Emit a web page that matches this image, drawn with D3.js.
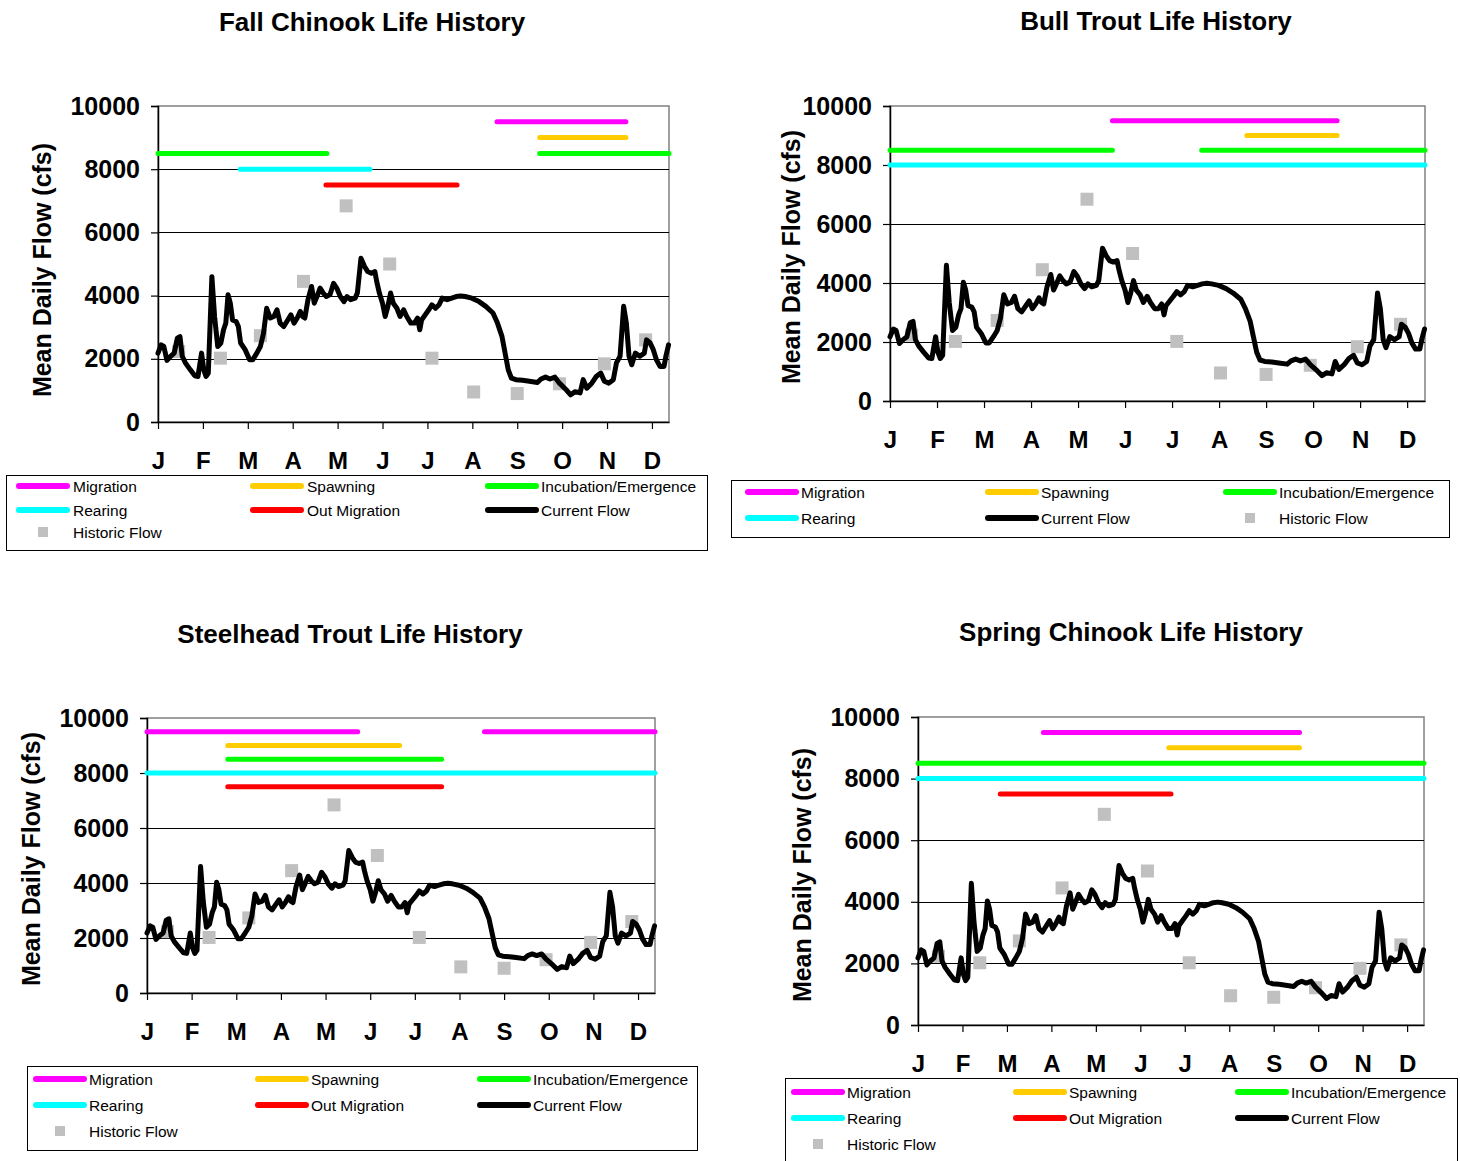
<!DOCTYPE html>
<html><head><meta charset="utf-8">
<script src="https://cdn.jsdelivr.net/npm/d3@7"></script>
<style>
body{margin:0;background:#fff}
svg{display:block}
text{font-family:"Liberation Sans",Arial,Helvetica,sans-serif;fill:#000}
</style>
</head><body>
<svg id="c" width="1460" height="1161"></svg>
<script>
// ---------------- DATA ----------------
const months = ["J","F","M","A","M","J","J","A","S","O","N","D"];
const yTicks = [0, 2000, 4000, 6000, 8000, 10000];
const gridValues = [2000, 4000, 6000, 8000];
const xMax = 11.38; // axis runs a little past the D tick (month units)

// Current flow: position in month units, mean daily flow (cfs)
const flowPos = [0,0.07,0.13,0.2,0.28,0.36,0.43,0.49,0.54,0.61,0.72,0.82,0.89,0.97,1.02,1.07,1.12,1.2,1.26,1.33,1.4,1.46,1.51,1.56,1.61,1.66,1.74,1.79,1.84,1.94,2.04,2.11,2.2,2.28,2.35,2.42,2.5,2.58,2.65,2.72,2.8,2.89,2.96,3.03,3.1,3.17,3.22,3.27,3.34,3.42,3.48,3.54,3.61,3.68,3.75,3.83,3.91,3.98,4.06,4.14,4.21,4.29,4.39,4.44,4.52,4.6,4.67,4.75,4.83,4.87,4.93,5.0,5.06,5.12,5.18,5.24,5.32,5.39,5.47,5.54,5.63,5.71,5.78,5.83,5.87,5.95,6.03,6.1,6.18,6.26,6.33,6.44,6.54,6.64,6.74,6.84,6.99,7.15,7.3,7.46,7.56,7.66,7.73,7.8,7.87,7.97,8.12,8.27,8.45,8.53,8.63,8.73,8.84,8.94,9.09,9.19,9.29,9.4,9.47,9.55,9.66,9.76,9.86,9.94,10.04,10.14,10.21,10.29,10.37,10.43,10.49,10.55,10.63,10.73,10.83,10.88,10.96,11.03,11.1,11.18,11.27,11.31,11.37];
const flowCfs = [2180,2440,2390,1950,2080,2180,2650,2700,2080,1870,1650,1460,1440,2180,1650,1440,1550,4600,3340,2390,2500,2920,3130,4025,3760,3230,3180,3020,2500,2290,1970,1970,2180,2390,2810,3600,3290,3340,3550,3130,3020,3230,3390,3130,3290,3500,3340,3290,3870,4290,3760,3970,4240,4080,3970,4030,4390,4240,3970,3810,3970,3870,3920,4080,5180,4920,4760,4710,4760,4450,4080,3760,3340,3660,4080,3760,3600,3340,3550,3340,3130,3130,3290,2920,3230,3390,3550,3710,3600,3710,3920,3870,3920,3970,3990,3970,3920,3810,3660,3450,3130,2710,2180,1650,1390,1340,1320,1290,1250,1360,1420,1360,1420,1230,1020,860,960,920,1340,1070,1230,1440,1550,1290,1230,1340,1870,2080,3660,3130,2080,1810,2180,2080,2180,2600,2500,2290,1970,1760,1760,2080,2440];

// Historic flow (monthly squares)
const histPos = [0.46,1.39,2.28,3.24,4.19,5.16,6.10,7.03,8.0,8.94,9.94,10.86];
const histCfs = [2230,2020,2730,4450,6840,5000,2020,950,900,1210,1840,2600];

// Life-history stages
const stageNames  = ["Migration","Spawning","Incubation/Emergence","Rearing","Out Migration"];
const stageLevels = [9500, 9000, 8500, 8000, 7500];
const stageColors = ["#ff00ff","#ffcc00","#00ff00","#00ffff","#ff0000"];

// Stage spans per species: [stage index, start month, end month]
const fallChinookSpans   = [[0,7.55,10.42],[1,8.5,10.42],[2,0,3.76],[2,8.5,xMax],[3,1.83,4.72],[4,3.74,6.66]];
const bullTroutSpans     = [[3,0,xMax],[0,4.73,9.51],[1,7.59,9.51],[2,0,4.73],[2,6.63,xMax]];
const steelheadSpans     = [[3,0,xMax],[0,0,4.72],[0,7.56,xMax],[1,1.81,5.66],[2,1.81,6.6],[4,1.81,6.6]];
const springChinookSpans = [[2,0,xMax],[3,0,xMax],[0,2.82,8.58],[1,5.64,8.58],[4,1.85,5.69]];

const titles = ["Fall Chinook Life History","Bull Trout Life History","Steelhead Trout Life History","Spring Chinook Life History"];
const yTitle = "Mean Daily Flow (cfs)";

// legend entries (keys): stage index, "flow", "hist"
const legendFull  = [[0,1,2],[3,4,"flow"],["hist"]];
const legendBull  = [[0,1,2],[3,"flow","hist"]];

// ---------------- LAYOUT ----------------
const panels = [
  {title:titles[0], spans:fallChinookSpans, legend:legendFull,
   L:158,R:669,T:106,B:422, titleX:372,titleY:22, yTitleX:42,yTitleY:270,
   box:{x:6,y:475,w:701,h:75}, rows:[486,510,532], cols:[[16,73],[250,307],[485,541]]},
  {title:titles[1], spans:bullTroutSpans, legend:legendBull,
   L:890,R:1425,T:106,B:401, titleX:1156,titleY:21, yTitleX:791,yTitleY:257,
   box:{x:731,y:480,w:718,h:57}, rows:[492,518], cols:[[745,801],[985,1041],[1223,1279]]},
  {title:titles[2], spans:steelheadSpans, legend:legendFull,
   L:147,R:655,T:718,B:993, titleX:350,titleY:634, yTitleX:31,yTitleY:859,
   box:{x:27,y:1066,w:670,h:84}, rows:[1079,1105,1131], cols:[[33,89],[255,311],[477,533]]},
  {title:titles[3], spans:springChinookSpans, legend:legendFull,
   L:918,R:1424,T:717,B:1025, titleX:1131,titleY:632, yTitleX:802,yTitleY:875,
   box:{x:785,y:1078,w:672,h:100}, rows:[1092,1118,1144], cols:[[791,847],[1013,1069],[1235,1291]]}
];

const svg = d3.select("#c");

panels.forEach(p => {
  const g = svg.append("g");
  const x = d3.scaleLinear().domain([0, xMax]).range([p.L, p.R]);
  const y = d3.scaleLinear().domain([0, 10000]).range([p.B, p.T]);

  // title
  g.append("text").attr("x", p.titleX).attr("y", p.titleY)
    .attr("text-anchor","middle").attr("dominant-baseline","central")
    .style("font-size","26px").style("font-weight","bold").text(p.title);

  // plot border (grey)
  g.append("rect").attr("x",p.L).attr("y",p.T).attr("width",p.R-p.L).attr("height",p.B-p.T)
    .attr("fill","none").attr("stroke","#808080").attr("stroke-width",1.5);

  // gridlines
  g.selectAll(".grid").data(gridValues).enter().append("line")
    .attr("x1",p.L).attr("x2",p.R).attr("y1",d=>Math.round(y(d))+0.5).attr("y2",d=>Math.round(y(d))+0.5)
    .attr("stroke","#000").attr("stroke-width",1);

  // y axis
  const yAx = g.append("g").attr("transform",`translate(${p.L},0)`)
    .call(d3.axisLeft(y).tickValues(yTicks).tickSize(7).tickPadding(11).tickFormat(d3.format("d")));
  yAx.select(".domain").attr("stroke","#000").attr("stroke-width",1.5);
  yAx.selectAll(".tick line").attr("stroke","#000").attr("stroke-width",1.2);
  yAx.selectAll("text").style("font-size","25px").style("font-weight","bold")
    .attr("font-family",null);

  // x axis
  const xAx = g.append("g").attr("transform",`translate(0,${p.B})`)
    .call(d3.axisBottom(x).tickValues(d3.range(12)).tickSize(7).tickSizeOuter(0).tickPadding(0)
      .tickFormat((d,i)=>months[i]));
  xAx.select(".domain").attr("stroke","#000").attr("stroke-width",1.5);
  xAx.selectAll(".tick line").attr("stroke","#000").attr("stroke-width",1.2);
  xAx.selectAll("text").attr("y",38).attr("dy",null).attr("dominant-baseline","central")
    .style("font-size","24px").style("font-weight","bold");

  // y title
  g.append("text").attr("transform",`translate(${p.yTitleX},${p.yTitleY}) rotate(-90)`)
    .attr("text-anchor","middle").attr("dominant-baseline","central")
    .style("font-size","25px").style("font-weight","bold").text(yTitle);

  // historic flow squares
  const sq = 13;
  g.selectAll(".hist").data(histPos).enter().append("rect")
    .attr("x",(d)=>x(d)-sq/2).attr("y",(d,i)=>y(histCfs[i])-sq/2)
    .attr("width",sq).attr("height",sq).attr("fill","#c0c0c0");

  // current flow line
  const line = d3.line().x(d=>x(d[0])).y(d=>y(d[1]));
  g.append("path").datum(flowPos.map((d,i)=>[d, flowCfs[i]]))
    .attr("d",line).attr("fill","none").attr("stroke","#000")
    .attr("stroke-width",5).attr("stroke-linejoin","round").attr("stroke-linecap","round");

  // life-history stage lines
  g.selectAll(".stage").data(p.spans).enter().append("line")
    .attr("x1",d=>x(d[1])).attr("x2",d=>x(d[2]))
    .attr("y1",d=>y(stageLevels[d[0]])).attr("y2",d=>y(stageLevels[d[0]]))
    .attr("stroke",d=>stageColors[d[0]]).attr("stroke-width",5).attr("stroke-linecap","round");

  // legend
  const lg = svg.append("g");
  lg.append("rect").attr("x",p.box.x+0.5).attr("y",p.box.y+0.5).attr("width",p.box.w).attr("height",p.box.h)
    .attr("fill","#fff").attr("stroke","#000").attr("stroke-width",1);
  p.legend.forEach((row, ri) => {
    row.forEach((key, ci) => {
      const cy = p.rows[ri];
      const [lx, tx] = p.cols[ci];
      let label;
      if (key === "hist") {
        lg.append("rect").attr("x",lx+27-5).attr("y",cy-5).attr("width",10).attr("height",10).attr("fill","#c0c0c0");
        label = "Historic Flow";
      } else {
        const color = key === "flow" ? "#000" : stageColors[key];
        label = key === "flow" ? "Current Flow" : stageNames[key];
        lg.append("line").attr("x1",lx+3).attr("x2",lx+51).attr("y1",cy).attr("y2",cy)
          .attr("stroke",color).attr("stroke-width",6).attr("stroke-linecap","round");
      }
      lg.append("text").attr("x",tx).attr("y",cy).attr("dominant-baseline","central")
        .style("font-size","15.5px").text(label);
    });
  });
});
</script>
</body></html>
